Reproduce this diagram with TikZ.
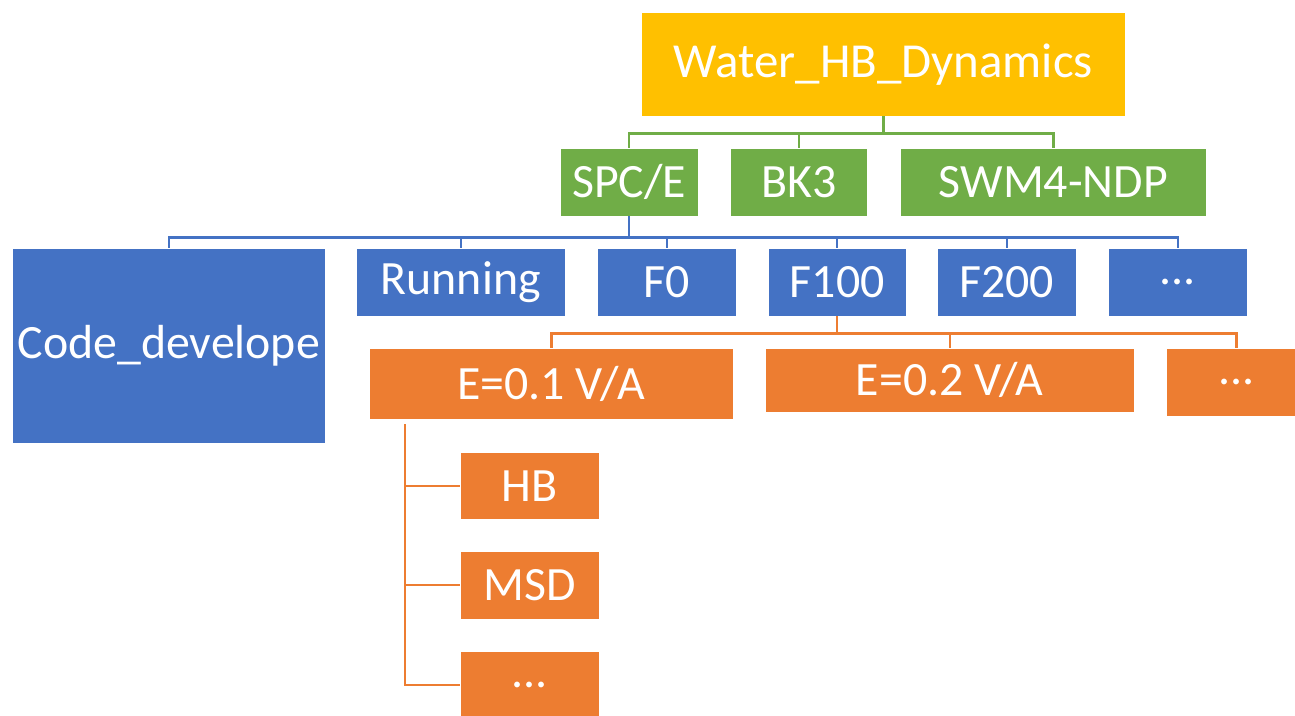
\documentclass[tikz,border=0pt]{standalone}
\usepackage{fontspec}
\setmainfont{Carlito}
\definecolor{topgold}{HTML}{FFC000}
\definecolor{modelgreen}{HTML}{70AD47}
\definecolor{runblue}{HTML}{4472C4}
\definecolor{fieldorange}{HTML}{ED7D31}

\begin{document}
\begin{tikzpicture}[x=0.01cm, y=-0.01cm,
  box/.style={inner sep=0pt, anchor=north west, text=white, font=\fontsize{13.6}{15}\selectfont},
  topbox/.style={box, fill=topgold, font=\fontsize{13.9}{16}\selectfont},
  gbox/.style={box, fill=modelgreen},
  bbox/.style={box, fill=runblue},
  obox/.style={box, fill=fieldorange},
  gline/.style={draw=modelgreen, line width=0.7pt},
  bline/.style={draw=runblue, line width=0.7pt},
  oline/.style={draw=fieldorange, line width=0.7pt}]
\useasboundingbox (0,0) rectangle (1295,715);

% root
\node[topbox, minimum width=4.83cm, minimum height=1.03cm] (top) at (641,12) {Water\_HB\_Dynamics};

% water models
\node[gbox, minimum width=1.37cm, minimum height=0.67cm] (spce) at (560,148) {SPC/E};
\node[gbox, minimum width=1.36cm, minimum height=0.67cm] (bk3) at (730,148) {BK3};
\node[gbox, minimum width=3.05cm, minimum height=0.67cm] (swm) at (900,148) {SWM4-NDP};

% runs
\node[bbox, minimum width=3.12cm, minimum height=1.94cm] (code) at (12,248) {Code\_develope};
\node[bbox, minimum width=2.08cm, minimum height=0.67cm] (run) at (356,248) {Running};
\node[bbox, minimum width=1.38cm, minimum height=0.67cm] (f0) at (597,248) {F0};
\node[bbox, minimum width=1.37cm, minimum height=0.67cm] (f100) at (768,248) {F100};
\node[bbox, minimum width=1.38cm, minimum height=0.67cm] (f200) at (937,248) {F200};
\node[bbox, minimum width=1.38cm, minimum height=0.67cm] (bdots) at (1108,248) {...};

% fields
\node[obox, minimum width=3.63cm, minimum height=0.70cm] (e1) at (369,348) {E=0.1 V/A};
\node[obox, minimum width=3.68cm, minimum height=0.63cm] (e2) at (765,348) {E=0.2 V/A};
\node[obox, minimum width=1.39cm, minimum height=0.67cm] (odots) at (1166,348) {...};

% analysis
\node[obox, minimum width=1.38cm, minimum height=0.66cm] (hb) at (460,452) {HB};
\node[obox, minimum width=1.38cm, minimum height=0.67cm] (msd) at (460,551) {MSD};
\node[obox, minimum width=1.38cm, minimum height=0.66cm] (sdots) at (460,651) {...};

% connectors
\draw[gline] (top.south) -- ++(0,17) coordinate (gbus);
\foreach \n in {spce,bk3,swm} \draw[gline] (gbus) -| (\n.north);

\draw[bline] (spce.south) -- ++(0,21) coordinate (bbus);
\foreach \n in {code,run,f0,f100,f200,bdots} \draw[bline] (bbus) -| (\n.north);

\draw[oline] (f100.south) -- ++(0,17) coordinate (obus);
\foreach \n in {e1,e2,odots} \draw[oline] (obus) -| (\n.north);

\coordinate (sub) at (405,424);
\foreach \n in {hb,msd,sdots} \draw[oline] (sub) |- (\n.west);
\end{tikzpicture}
\end{document}
